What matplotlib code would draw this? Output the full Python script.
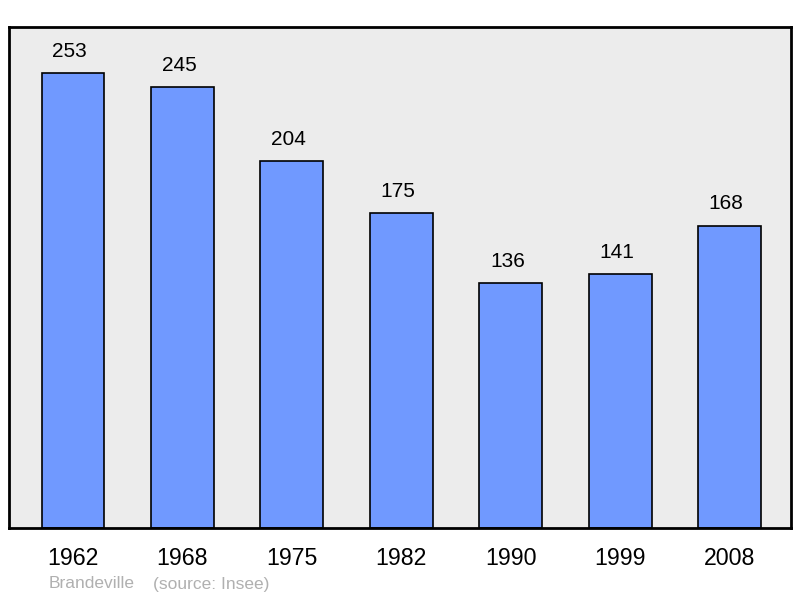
import matplotlib.pyplot as plt

plt.rcParams['font.family'] = ['Liberation Sans', 'DejaVu Sans']

# données population
years = ["1962", "1968", "1975", "1982", "1990", "1999", "2008"]
population = [253, 245, 204, 175, 136, 141, 168]

fig = plt.figure(figsize=(8, 5.98), dpi=100)
ax = fig.add_axes([9/800, 1-528/598, 782/800, 501/598])
ax.set_facecolor('#ececec')

x = list(range(len(years)))
ax.bar(x, population, width=0.575, color='#7099ff', edgecolor='black', linewidth=1.2, zorder=2)

for xi, v in zip(x, population):
    ax.annotate(str(v), (xi, v), xytext=(-2.5, 9), textcoords='offset points',
                ha='center', va='bottom', fontsize=15)

ax.set_xlim(-0.585, 6.56)
ax.set_ylim(0, 278.6)
ax.set_yticks([])
ax.set_xticks(x)
ax.set_xticklabels(years, fontsize=16.7)
ax.tick_params(axis='x', length=0, pad=14)
for s in ax.spines.values():
    s.set_linewidth(2)

fig.text(49/800, 1-584/598, "Brandeville", color='#b0b0b0', fontsize=12.5, va='center')
fig.text(153/800, 1-584/598, "(source: Insee)", color='#b0b0b0', fontsize=12.5, va='center')

fig.savefig('out.png', dpi=100)
